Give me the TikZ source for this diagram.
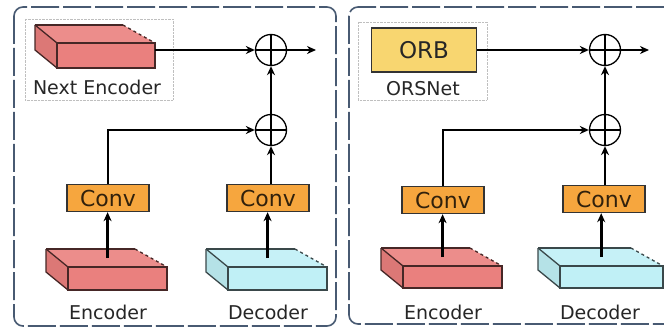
\documentclass[tikz,border=0pt]{standalone}
\usepackage{fontspec}
\setmainfont{DejaVu Sans}
\usetikzlibrary{arrows.meta}
\definecolor{encred}{RGB}{234,128,126}
\definecolor{decblue}{RGB}{192,240,246}
\definecolor{convorange}{RGB}{246,166,62}
\definecolor{orbyellow}{RGB}{248,214,112}
\definecolor{framegray}{RGB}{72,90,114}
\newcommand{\depl}{22}
\newcommand{\depr}{32}
\newcommand{\deph}{18}
% slab: name, x, y, width, height, colour
\newcommand{\slab}[6]{%
    \fill[#6!90!white] (#2,#3) -- (#2+#4,#3) -- (#2+#4-\depr,#3-\deph) -- (#2-\depl,#3-\deph) -- cycle;
    \fill[#6!94!black] (#2,#3) -- (#2-\depl,#3-\deph) -- (#2-\depl,#3-\deph+#5) -- (#2,#3+#5) -- cycle;
    \fill[#6] (#2,#3) rectangle (#2+#4,#3+#5);
    \draw[#6!30!black, line width=1.3pt] (#2-\depl,#3-\deph) -- (#2+#4-\depr,#3-\deph);
    \draw[#6!30!black, line width=1.3pt, dashed] (#2+#4-\depr,#3-\deph) -- (#2+#4,#3);
    \draw[#6!30!black, line width=1.3pt] (#2,#3) rectangle (#2+#4,#3+#5);
    \draw[#6!30!black, line width=1.3pt] (#2-\depl,#3-\deph) -- (#2-\depl,#3-\deph+#5) -- (#2,#3+#5);
    \draw[#6!30!black, line width=1.3pt] (#2-\depl,#3-\deph) -- (#2,#3);
    \coordinate (#1) at (#2+#4*0.4,#3-\deph/2);
    \coordinate (#1-e) at (#2+#4,#3+#5/2);
}

\begin{document}
\begin{tikzpicture}[x=(0:1pt), y=(270:1pt), >={Stealth[length=9pt, width=8pt]},
    conv/.style={draw=black!80, line width=1.4pt, fill=convorange, minimum width=82pt,
        minimum height=27pt, inner sep=0pt, text=convorange!20!black, font=\fontsize{22}{24}\selectfont},
    addop/.style={draw, circle, line width=1.3pt, minimum size=31pt, inner sep=0pt,
        path picture={\draw[line width=1.1pt] (path picture bounding box.north) -- (path picture bounding box.south)
            (path picture bounding box.west) -- (path picture bounding box.east);}},
    lbl/.style={text=black!85, font=\fontsize{19}{22}\selectfont},
    flow/.style={->, line width=2.6pt},
    panel/.style={draw=framegray, line width=1.6pt, rounded corners=9pt, dash pattern=on 28pt off 4pt},
    group/.style={draw=black!25, densely dotted}]
    \useasboundingbox (0,0) rectangle (664,334);
    \fill[white] (0,0) rectangle (664,334);

    % panels
    \draw[panel] (14,7) rectangle (336,326);
    \draw[panel] (349,7) rectangle (680,324);

    % left panel
    \draw[group] (25,19) rectangle (173,100);
    \slab{nxt}{57}{43}{98}{25}{encred}
    \node[lbl] (nxtlbl) at (97,87) {Next Encoder};
    \slab{enc1}{68}{267}{99}{23}{encred}
    \slab{dec1}{228}{267}{99}{23}{decblue}
    \node[lbl] (enclbl1) at (108,312) {Encoder};
    \node[lbl] (declbl1) at (268,312) {Decoder};
    \node[conv] (conv1) at (108,198) {Conv};
    \node[conv] (conv2) at (268,198) {Conv};
    \node[addop] (sum1) at (271,50) {};
    \node[addop] (sum2) at (271,130) {};
    \coordinate (out1) at (316,50);

    \draw[flow] (enc1) -- (enc1 |- conv1.south);
    \draw[flow] (dec1) -- (dec1 |- conv2.south);
    \draw[flow] (conv1.north) |- (sum2.west);
    \draw[flow] (conv2.north -| sum2) -- (sum2.south);
    \draw[flow] (sum2) -- (sum1);
    \draw[flow] (nxt-e |- sum1) -- (sum1.west);
    \draw[flow] (sum1.east) -- (out1);

    % right panel
    \draw[group] (358,22) rectangle (487,100);
    \node[draw=black!80, line width=1.4pt, fill=orbyellow, minimum width=105pt, minimum height=44pt,
        text=black!85, font=\fontsize{23}{26}\selectfont] (orb) at (424,50) {ORB};
    \node[lbl] (orslbl) at (423,89) {ORSNet};
    \slab{enc2}{403}{266}{99}{22}{encred}
    \slab{dec2}{560}{266}{103}{22}{decblue}
    \node[lbl] (enclbl2) at (443,312) {Encoder};
    \node[lbl] (declbl2) at (600,312) {Decoder};
    \node[conv] (conv3) at (443,200) {Conv};
    \node[conv] (conv4) at (604,199) {Conv};
    \node[addop] (sum3) at (605,50) {};
    \node[addop] (sum4) at (605,130) {};
    \coordinate (out2) at (649,50);

    \draw[flow] (enc2) -- (enc2 |- conv3.south);
    \draw[flow] (dec2) -- (dec2 |- conv4.south);
    \draw[flow] (conv3.north) |- (sum4.west);
    \draw[flow] (conv4.north -| sum4) -- (sum4.south);
    \draw[flow] (sum4) -- (sum3);
    \draw[flow] (orb.east) -- (sum3.west);
    \draw[flow] (sum3.east) -- (out2);
\end{tikzpicture}
\end{document}
